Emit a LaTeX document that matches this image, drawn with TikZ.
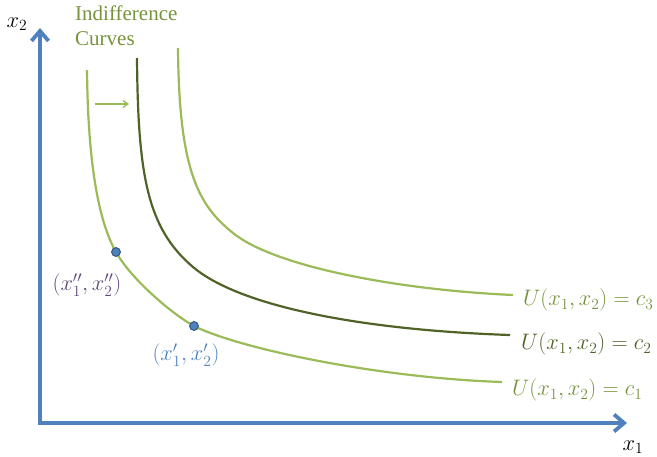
\documentclass[tikz,border=0pt]{standalone}
\usepackage{fontspec}
\newfontfamily\curvefont{Liberation Serif}
\usetikzlibrary{arrows.meta}
\definecolor{axisblue}{RGB}{79,129,189}
\definecolor{curvelight}{RGB}{155,187,89}
\definecolor{curvedark}{RGB}{79,98,40}
\definecolor{labelgreen}{RGB}{119,147,60}
\definecolor{labelpurple}{RGB}{96,74,123}
\definecolor{dotedge}{RGB}{56,93,138}
\tikzset{axis/.style={draw=axisblue,line width=3.8pt,
           {Straight Barb[length=10pt,width=17pt]}-{Straight Barb[length=10pt,width=17pt]}},
         icurve/.style={draw=curvelight,line width=2.2pt},
         icurvedark/.style={draw=curvedark,line width=2.2pt},
         bundle/.style={circle,fill=axisblue,draw=dotedge,line width=1pt,inner sep=0pt,minimum size=8.5pt},
         mathlbl/.style={inner sep=0pt,scale=1.08,font=\fontsize{20}{24}\selectfont}}

\begin{document}
\begin{tikzpicture}[x=1pt,y=-1pt]
  \useasboundingbox (0,0) rectangle (657,457);
  % axes, origin bottom left, y measured downwards
  \coordinate (origin) at (40,423);
  \coordinate (x2tip) at (40,28);
  \coordinate (x1tip) at (627,423);
  \draw[axis] (x2tip) -- (origin) -- (x1tip);
  \node[mathlbl] (x2lbl) at (17,24) {$x_2$};
  \node[mathlbl] (x1lbl) at (633,447) {$x_1$};

  \node[anchor=north west,align=left,inner sep=0pt,text=labelgreen,
        font=\curvefont\fontsize{21}{25}\selectfont] (title) at (75,6) {Indifference\\Curves};
  \coordinate (shiftA) at (95,104);
  \coordinate (shiftB) at (129,104);
  \draw[draw=curvelight,line width=1.3pt,-{Straight Barb[length=5pt,width=7pt]}] (shiftA) -- (shiftB);

  \node[bundle] (pB) at (116,252) {};
  \node[bundle] (pA) at (194,326) {};
  \coordinate (c1top) at (87,70);
  \coordinate (c1end) at (502,382);
  \coordinate (c2top) at (137,58);
  \coordinate (c2mid) at (193,267);
  \coordinate (c2end) at (510,335);
  \coordinate (c3top) at (178,48);
  \coordinate (c3mid) at (233,233);
  \coordinate (c3end) at (513,295);
  \draw[icurve] (c1top) .. controls (88,170) and (100,224) .. (pB.center)
        .. controls (131,279) and (172,314) .. (pA.center)
        .. controls (240,349) and (380,378) .. (c1end);
  \draw[icurvedark] (c2top) .. controls (138,175) and (147,228) .. (c2mid)
        .. controls (239,306) and (360,330) .. (c2end);
  \draw[icurve] (c3top) .. controls (179,170) and (198,205) .. (c3mid)
        .. controls (275,267) and (400,290) .. (c3end);
  \node[bundle] at (pB) {};
  \node[bundle] at (pA) {};

  \node[mathlbl,anchor=base west,text=labelgreen] (u3) at (523,306) {$U(x_1,x_2)=c_3$};
  \node[mathlbl,anchor=base west,text=curvedark] (u2) at (521,350) {$U(x_1,x_2)=c_2$};
  \node[mathlbl,anchor=base west,text=labelgreen] (u1) at (512,396) {$U(x_1,x_2)=c_1$};
  \node[mathlbl,text=labelpurple] (pBlbl) at (87,285) {$(x_1'',x_2'')$};
  \node[mathlbl,text=axisblue] (pAlbl) at (186,355) {$(x_1',x_2')$};
\end{tikzpicture}
\end{document}
